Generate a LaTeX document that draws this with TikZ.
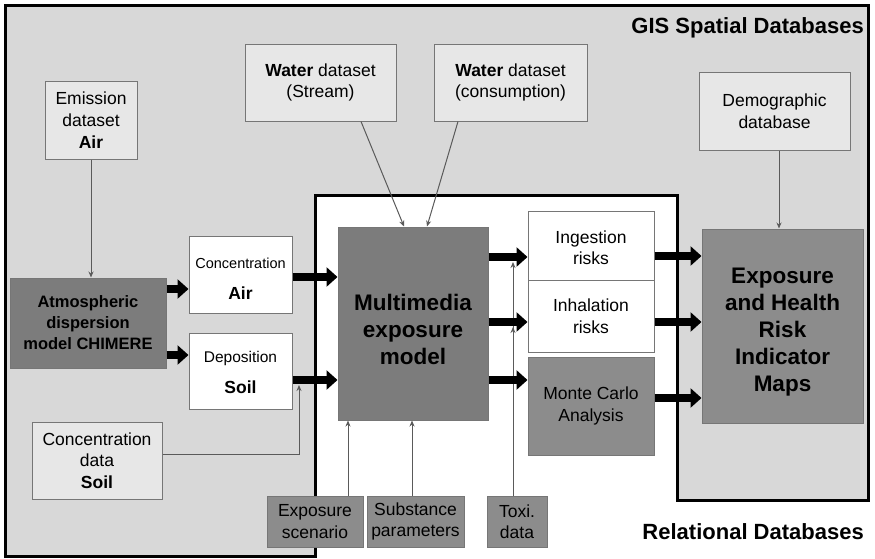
\documentclass[tikz,border=0pt]{standalone}
\usepackage{fontspec}
\setmainfont{Liberation Sans}
\usetikzlibrary{arrows.meta,calc}
\definecolor{bggrey}{HTML}{D8D8D8}
\definecolor{lightbox}{HTML}{E7E7E7}
\definecolor{darkbox}{HTML}{7C7C7C}
\definecolor{midbox}{HTML}{8C8C8C}
\definecolor{boxline}{HTML}{767676}
\definecolor{thinline}{HTML}{5A5A5A}
\begin{document}
\begin{tikzpicture}[x=1pt,y=-1pt,
  base/.style={draw=boxline, line width=1pt, inner sep=0pt, align=center,
    font=\fontsize{17.5}{21.5}\selectfont, text=black},
  lightbx/.style={base, fill=lightbox},
  whitebx/.style={base, fill=white},
  darkbx/.style={base, fill=darkbox},
  midbx/.style={base, fill=midbox},
  fat/.style={line width=8pt, -{Triangle[length=11pt,width=19pt]}, black},
  thin/.style={draw=thinline, line width=1pt, -{Stealth[length=6pt,width=5pt]}},
  bigtxt/.style={font=\bfseries\fontsize{22.5}{27}\selectfont},
  title/.style={font=\bfseries\fontsize{22}{26}\selectfont, inner sep=0pt},
]
\useasboundingbox (0,0) rectangle (875,558);
% frame regions
\path[fill=bggrey, draw=black, line width=3pt, line join=miter]
  (5,5) -- (868,5) -- (868,500) -- (677,500) -- (677,195) -- (315,195)
  -- (315,556) -- (5,556) -- cycle;

\node[title, anchor=base east] (gis) at (864,33) {GIS Spatial Databases};
\node[title, anchor=base east] (rel) at (864,539) {Relational Databases};

% boxes
\node[lightbx, minimum width=92pt, minimum height=78pt] (emis) at (91,120)
  {Emission\\[0.5pt]dataset\\[0.5pt]\textbf{Air}};
\node[darkbx, minimum width=156pt, minimum height=90pt,
  font=\bfseries\fontsize{16.5}{21}\selectfont] (chim) at (88,323)
  {Atmospheric\\dispersion\\model CHIMERE};
\node[whitebx, minimum width=103pt, minimum height=77pt] (cair) at (240.5,274.5)
  {\rule{0pt}{19pt}{\fontsize{14.5}{17}\selectfont Concentration}\\[9pt]\textbf{Air}};
\node[whitebx, minimum width=103pt, minimum height=76pt] (dep) at (240.5,371)
  {\rule{0pt}{14pt}{\fontsize{15.5}{18}\selectfont Deposition}\\[10pt]\textbf{Soil}};
\node[lightbx, minimum width=130pt, minimum height=77pt] (csoil) at (97,460.5)
  {Concentration\\data\\\textbf{Soil}};
\node[lightbx, minimum width=151pt, minimum height=77pt] (ws) at (320.5,82.5)
  {\textbf{Water} dataset\\(Stream)};
\node[lightbx, minimum width=153pt, minimum height=77pt] (wc) at (510.5,82.5)
  {\textbf{Water} dataset\\(consumption)};
\node[darkbx, bigtxt, minimum width=150pt, minimum height=193pt] (mm) at (413,323.5)
  {\rule{0pt}{28pt}Multimedia\\exposure\\model};
\node[whitebx, minimum width=126pt, minimum height=69pt] (ing) at (591,245.5)
  {\rule{0pt}{17pt}Ingestion\\risks};
\node[whitebx, minimum width=126pt, minimum height=72pt] (inh) at (591,316)
  {Inhalation\\risks};
\node[midbx, minimum width=126pt, minimum height=98pt] (mc) at (591,406)
  {Monte Carlo\\Analysis};
\node[midbx, bigtxt, minimum width=161pt, minimum height=194pt] (maps) at (782.5,326)
  {\rule{0pt}{27pt}Exposure\\and Health\\Risk\\Indicator\\Maps};
\node[lightbx, minimum width=151pt, minimum height=78pt] (demo) at (774.5,111)
  {Demographic\\database};
\node[midbx, minimum width=96pt, minimum height=51pt] (es) at (315,521.5)
  {Exposure\\scenario};
\node[midbx, minimum width=97pt, minimum height=51pt] (sp) at (415.5,521.5)
  {Substance\\parameters};
\node[midbx, minimum width=60pt, minimum height=51pt] (tox) at (517,521.5)
  {Toxi.\\data};

% thin connectors
\coordinate (soilin) at (299,385);
\coordinate (toxa) at (513,262);
\coordinate (toxb) at (513,327);
\draw[thin] (emis.south) -- (emis.south |- chim.north);
\draw[thin] (csoil.east |- 0,454) -| (soilin);
\draw[thin] ($(ws.south)+(40.5,0)$) -- ($(mm.north)+(-9,0)$);
\draw[thin] ($(wc.south)+(-52.5,0)$) -- ($(mm.north)+(14,0)$);
\draw[thin] ($(demo.south)+(4.5,0)$) -- ($(maps.north)+(-3.5,0)$);
\draw[thin] ($(es.north)+(33,0)$) -- ($(mm.south)+(-65,0)$);
\draw[thin] ($(sp.north)+(-3.5,0)$) -- ($(mm.south)+(-1,0)$);
\draw[thin] (tox.north -| toxb) -- (toxb);
\draw[thin] (tox.north -| toxa) -- (toxa);

% thick arrows
\draw[fat] (chim.east |- 0,289) -- (cair.west |- 0,289);
\draw[fat] (chim.east |- 0,355) -- (dep.west |- 0,355);
\draw[fat] (cair.east |- 0,277) -- (mm.west |- 0,277);
\draw[fat] (dep.east |- 0,380) -- (mm.west |- 0,380);
\draw[fat] (mm.east |- 0,257) -- (ing.west |- 0,257);
\draw[fat] (mm.east |- 0,322) -- (inh.west |- 0,322);
\draw[fat] (mm.east |- 0,380) -- (mc.west |- 0,380);
\draw[fat] (ing.east |- 0,256) -- (maps.west |- 0,256);
\draw[fat] (inh.east |- 0,322) -- (maps.west |- 0,322);
\draw[fat] (mc.east |- 0,398) -- (maps.west |- 0,398);
\end{tikzpicture}
\end{document}
